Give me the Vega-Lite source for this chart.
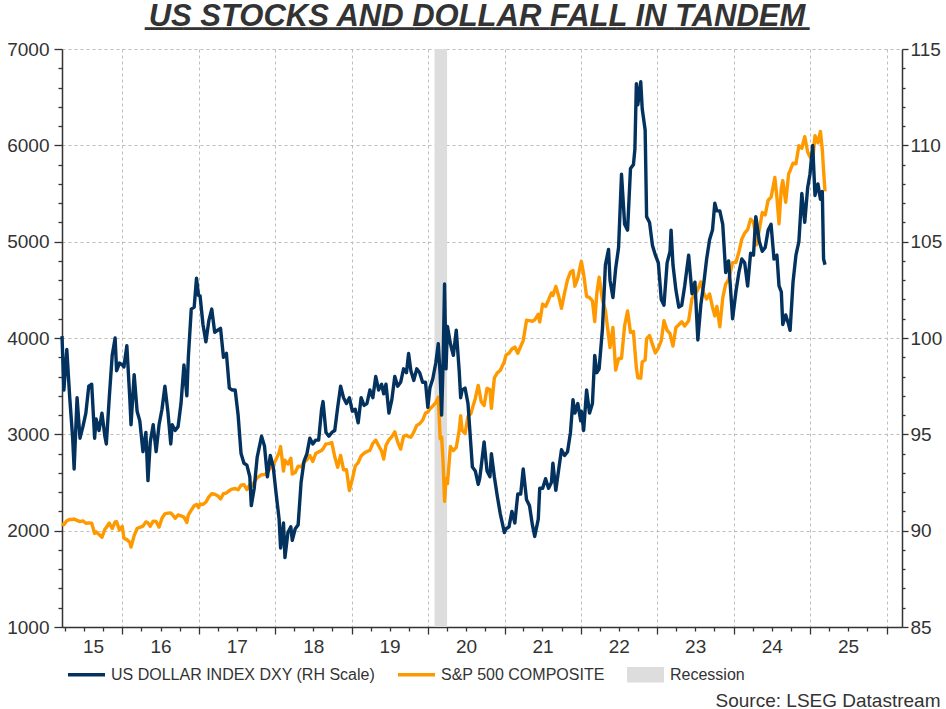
{
  "$schema": "https://vega.github.io/schema/vega-lite/v6.json",
  "width": 840,
  "height": 578,
  "autosize": {"type": "none"},
  "padding": {"left": 62, "top": 49, "right": 44, "bottom": 82},
  "background": "white",
  "title": {
    "text": "US STOCKS AND DOLLAR FALL IN TANDEM",
    "subtitle": "━━━━━━━━━━━━━━━━━━━━━━━━━━━━━━━━━━━━━━━━━━━━━━━━━━━━━━━━━━━━━━━━━━━━━",
    "font": "Liberation Sans Narrow, Arial Narrow, Liberation Sans",
    "fontSize": 31,
    "fontStyle": "italic",
    "fontWeight": "bold",
    "color": "#333333",
    "subtitleFont": "DejaVu Sans Mono",
    "subtitleFontSize": 16,
    "subtitleColor": "#333333",
    "subtitlePadding": -12,
    "anchor": "middle",
    "frame": "group",
    "dx": -5,
    "offset": 2
  },
  "config": {
    "view": {"stroke": null},
    "font": "Liberation Sans",
    "axis": {
      "labelFont": "Liberation Sans",
      "labelColor": "#333333",
      "domainColor": "#333333",
      "domainWidth": 1.5,
      "tickColor": "#333333",
      "tickWidth": 1.3,
      "gridColor": "#bdbdbd",
      "gridDash": [3, 3],
      "gridWidth": 1
    }
  },
  "data": {
    "values": [
      {"d": "2015-03-18", "s": 2075, "u": 100.1},
      {"d": "2015-03-27", "s": 2061, "u": 97.3},
      {"d": "2015-04-10", "s": 2102, "u": 99.4},
      {"d": "2015-04-24", "s": 2117, "u": 96.9},
      {"d": "2015-05-08", "s": 2116, "u": 94.8},
      {"d": "2015-05-15", "s": 2122, "u": 93.2},
      {"d": "2015-05-29", "s": 2107, "u": 96.9},
      {"d": "2015-06-12", "s": 2094, "u": 94.8},
      {"d": "2015-06-26", "s": 2101, "u": 95.4},
      {"d": "2015-07-10", "s": 2077, "u": 96.1},
      {"d": "2015-07-24", "s": 2079, "u": 97.5},
      {"d": "2015-08-07", "s": 2078, "u": 97.6},
      {"d": "2015-08-21", "s": 1971, "u": 94.8},
      {"d": "2015-08-28", "s": 1989, "u": 95.8},
      {"d": "2015-09-11", "s": 1961, "u": 95.2},
      {"d": "2015-09-25", "s": 1931, "u": 96.1},
      {"d": "2015-10-09", "s": 2015, "u": 94.9},
      {"d": "2015-10-16", "s": 2033, "u": 94.5},
      {"d": "2015-10-30", "s": 2079, "u": 96.9},
      {"d": "2015-11-13", "s": 2023, "u": 99.1},
      {"d": "2015-11-27", "s": 2090, "u": 100.0},
      {"d": "2015-12-04", "s": 2092, "u": 98.3},
      {"d": "2015-12-18", "s": 2006, "u": 98.7},
      {"d": "2015-12-31", "s": 2044, "u": 98.6},
      {"d": "2016-01-08", "s": 1922, "u": 98.5},
      {"d": "2016-01-22", "s": 1907, "u": 99.6},
      {"d": "2016-02-05", "s": 1880, "u": 96.9},
      {"d": "2016-02-11", "s": 1829, "u": 95.5},
      {"d": "2016-02-26", "s": 1948, "u": 98.1},
      {"d": "2016-03-11", "s": 2022, "u": 96.2},
      {"d": "2016-03-24", "s": 2035, "u": 95.7},
      {"d": "2016-04-08", "s": 2047, "u": 94.1},
      {"d": "2016-04-22", "s": 2091, "u": 95.1},
      {"d": "2016-05-02", "s": 2081, "u": 92.6},
      {"d": "2016-05-13", "s": 2046, "u": 94.6},
      {"d": "2016-05-27", "s": 2099, "u": 95.5},
      {"d": "2016-06-10", "s": 2096, "u": 94.1},
      {"d": "2016-06-24", "s": 2037, "u": 95.5},
      {"d": "2016-07-08", "s": 2129, "u": 96.3},
      {"d": "2016-07-22", "s": 2175, "u": 97.5},
      {"d": "2016-08-05", "s": 2182, "u": 96.2},
      {"d": "2016-08-19", "s": 2183, "u": 94.5},
      {"d": "2016-08-26", "s": 2169, "u": 95.5},
      {"d": "2016-09-09", "s": 2128, "u": 95.2},
      {"d": "2016-09-23", "s": 2164, "u": 95.4},
      {"d": "2016-10-07", "s": 2153, "u": 96.6},
      {"d": "2016-10-21", "s": 2141, "u": 98.6},
      {"d": "2016-11-04", "s": 2085, "u": 97.0},
      {"d": "2016-11-11", "s": 2164, "u": 99.0},
      {"d": "2016-11-25", "s": 2213, "u": 101.5},
      {"d": "2016-12-09", "s": 2259, "u": 101.6},
      {"d": "2016-12-20", "s": 2271, "u": 103.1},
      {"d": "2016-12-30", "s": 2239, "u": 102.2},
      {"d": "2017-01-06", "s": 2277, "u": 102.2},
      {"d": "2017-01-20", "s": 2271, "u": 100.7},
      {"d": "2017-02-03", "s": 2297, "u": 99.8},
      {"d": "2017-02-17", "s": 2351, "u": 100.9},
      {"d": "2017-03-03", "s": 2383, "u": 101.5},
      {"d": "2017-03-17", "s": 2378, "u": 100.3},
      {"d": "2017-03-31", "s": 2363, "u": 100.4},
      {"d": "2017-04-14", "s": 2329, "u": 100.5},
      {"d": "2017-04-28", "s": 2384, "u": 99.0},
      {"d": "2017-05-12", "s": 2391, "u": 99.2},
      {"d": "2017-05-26", "s": 2416, "u": 97.4},
      {"d": "2017-06-09", "s": 2432, "u": 97.3},
      {"d": "2017-06-23", "s": 2438, "u": 97.3},
      {"d": "2017-07-07", "s": 2425, "u": 96.0},
      {"d": "2017-07-21", "s": 2472, "u": 94.0},
      {"d": "2017-08-04", "s": 2477, "u": 93.5},
      {"d": "2017-08-18", "s": 2426, "u": 93.4},
      {"d": "2017-09-01", "s": 2477, "u": 92.8},
      {"d": "2017-09-08", "s": 2461, "u": 91.3},
      {"d": "2017-09-22", "s": 2502, "u": 92.2},
      {"d": "2017-10-06", "s": 2549, "u": 93.8},
      {"d": "2017-10-27", "s": 2581, "u": 94.9},
      {"d": "2017-11-10", "s": 2582, "u": 94.4},
      {"d": "2017-11-24", "s": 2602, "u": 92.8},
      {"d": "2017-12-08", "s": 2652, "u": 93.9},
      {"d": "2017-12-22", "s": 2683, "u": 93.3},
      {"d": "2018-01-05", "s": 2743, "u": 91.9},
      {"d": "2018-01-19", "s": 2810, "u": 90.6},
      {"d": "2018-01-26", "s": 2873, "u": 89.1},
      {"d": "2018-02-09", "s": 2620, "u": 90.4},
      {"d": "2018-02-16", "s": 2732, "u": 88.6},
      {"d": "2018-03-02", "s": 2691, "u": 89.9},
      {"d": "2018-03-16", "s": 2752, "u": 90.2},
      {"d": "2018-03-23", "s": 2588, "u": 89.5},
      {"d": "2018-04-06", "s": 2604, "u": 90.1},
      {"d": "2018-04-20", "s": 2670, "u": 90.3},
      {"d": "2018-05-04", "s": 2663, "u": 92.5},
      {"d": "2018-05-18", "s": 2712, "u": 93.6},
      {"d": "2018-06-01", "s": 2735, "u": 94.0},
      {"d": "2018-06-15", "s": 2780, "u": 94.8},
      {"d": "2018-06-29", "s": 2718, "u": 94.5},
      {"d": "2018-07-13", "s": 2801, "u": 94.7},
      {"d": "2018-07-27", "s": 2818, "u": 94.7},
      {"d": "2018-08-10", "s": 2833, "u": 96.3},
      {"d": "2018-08-17", "s": 2850, "u": 96.7},
      {"d": "2018-08-31", "s": 2901, "u": 95.1},
      {"d": "2018-09-14", "s": 2904, "u": 94.9},
      {"d": "2018-09-28", "s": 2914, "u": 95.1},
      {"d": "2018-10-12", "s": 2767, "u": 95.2},
      {"d": "2018-10-26", "s": 2658, "u": 96.4},
      {"d": "2018-11-09", "s": 2781, "u": 97.5},
      {"d": "2018-11-23", "s": 2633, "u": 96.9},
      {"d": "2018-12-07", "s": 2633, "u": 96.6},
      {"d": "2018-12-21", "s": 2417, "u": 96.9},
      {"d": "2019-01-04", "s": 2532, "u": 96.2},
      {"d": "2019-01-18", "s": 2671, "u": 96.3},
      {"d": "2019-02-01", "s": 2707, "u": 95.6},
      {"d": "2019-02-15", "s": 2776, "u": 96.9},
      {"d": "2019-03-01", "s": 2804, "u": 96.5},
      {"d": "2019-03-15", "s": 2822, "u": 96.6},
      {"d": "2019-03-29", "s": 2834, "u": 97.3},
      {"d": "2019-04-12", "s": 2907, "u": 96.9},
      {"d": "2019-04-26", "s": 2940, "u": 98.0},
      {"d": "2019-05-10", "s": 2881, "u": 97.3},
      {"d": "2019-05-24", "s": 2826, "u": 97.6},
      {"d": "2019-06-03", "s": 2744, "u": 97.1},
      {"d": "2019-06-14", "s": 2887, "u": 97.6},
      {"d": "2019-06-28", "s": 2942, "u": 96.1},
      {"d": "2019-07-12", "s": 2977, "u": 96.8},
      {"d": "2019-07-26", "s": 3026, "u": 98.0},
      {"d": "2019-08-09", "s": 2919, "u": 97.5},
      {"d": "2019-08-23", "s": 2847, "u": 97.7},
      {"d": "2019-09-06", "s": 2979, "u": 98.4},
      {"d": "2019-09-20", "s": 2992, "u": 98.2},
      {"d": "2019-09-30", "s": 2977, "u": 99.2},
      {"d": "2019-10-11", "s": 2970, "u": 98.3},
      {"d": "2019-10-25", "s": 3023, "u": 97.8},
      {"d": "2019-11-08", "s": 3093, "u": 98.4},
      {"d": "2019-11-22", "s": 3110, "u": 98.2},
      {"d": "2019-12-06", "s": 3146, "u": 97.7},
      {"d": "2019-12-20", "s": 3221, "u": 97.7},
      {"d": "2019-12-31", "s": 3231, "u": 96.4},
      {"d": "2020-01-10", "s": 3265, "u": 97.4},
      {"d": "2020-01-24", "s": 3295, "u": 97.9},
      {"d": "2020-02-07", "s": 3328, "u": 98.7},
      {"d": "2020-02-19", "s": 3386, "u": 99.7},
      {"d": "2020-02-28", "s": 2954, "u": 98.1},
      {"d": "2020-03-06", "s": 2972, "u": 96.0},
      {"d": "2020-03-13", "s": 2711, "u": 98.7},
      {"d": "2020-03-20", "s": 2305, "u": 102.8},
      {"d": "2020-03-27", "s": 2541, "u": 98.4},
      {"d": "2020-04-03", "s": 2489, "u": 100.6},
      {"d": "2020-04-17", "s": 2875, "u": 99.7},
      {"d": "2020-05-01", "s": 2831, "u": 99.1},
      {"d": "2020-05-15", "s": 2864, "u": 100.4},
      {"d": "2020-05-29", "s": 3044, "u": 98.3},
      {"d": "2020-06-05", "s": 3194, "u": 96.9},
      {"d": "2020-06-12", "s": 3041, "u": 97.3},
      {"d": "2020-06-26", "s": 3009, "u": 97.4},
      {"d": "2020-07-10", "s": 3185, "u": 96.6},
      {"d": "2020-07-24", "s": 3216, "u": 94.4},
      {"d": "2020-07-31", "s": 3271, "u": 93.3},
      {"d": "2020-08-14", "s": 3373, "u": 93.1},
      {"d": "2020-08-28", "s": 3508, "u": 92.4},
      {"d": "2020-09-04", "s": 3427, "u": 92.7},
      {"d": "2020-09-11", "s": 3341, "u": 93.3},
      {"d": "2020-09-25", "s": 3298, "u": 94.6},
      {"d": "2020-10-09", "s": 3477, "u": 93.1},
      {"d": "2020-10-23", "s": 3465, "u": 92.8},
      {"d": "2020-10-30", "s": 3270, "u": 94.0},
      {"d": "2020-11-13", "s": 3585, "u": 92.8},
      {"d": "2020-11-27", "s": 3638, "u": 91.8},
      {"d": "2020-12-11", "s": 3663, "u": 90.9},
      {"d": "2020-12-31", "s": 3756, "u": 89.9},
      {"d": "2021-01-08", "s": 3824, "u": 90.1},
      {"d": "2021-01-22", "s": 3841, "u": 90.2},
      {"d": "2021-02-05", "s": 3886, "u": 91.0},
      {"d": "2021-02-19", "s": 3906, "u": 90.4},
      {"d": "2021-03-05", "s": 3842, "u": 91.9},
      {"d": "2021-03-19", "s": 3913, "u": 91.9},
      {"d": "2021-03-31", "s": 3973, "u": 93.2},
      {"d": "2021-04-16", "s": 4185, "u": 91.6},
      {"d": "2021-04-30", "s": 4181, "u": 91.3},
      {"d": "2021-05-14", "s": 4174, "u": 90.3},
      {"d": "2021-05-25", "s": 4188, "u": 89.7},
      {"d": "2021-06-11", "s": 4247, "u": 90.6},
      {"d": "2021-06-18", "s": 4166, "u": 92.2},
      {"d": "2021-07-02", "s": 4352, "u": 92.2},
      {"d": "2021-07-16", "s": 4327, "u": 92.7},
      {"d": "2021-07-30", "s": 4395, "u": 92.2},
      {"d": "2021-08-13", "s": 4468, "u": 92.5},
      {"d": "2021-08-20", "s": 4442, "u": 93.5},
      {"d": "2021-09-03", "s": 4535, "u": 92.1},
      {"d": "2021-09-17", "s": 4433, "u": 93.2},
      {"d": "2021-09-30", "s": 4308, "u": 94.2},
      {"d": "2021-10-15", "s": 4471, "u": 93.9},
      {"d": "2021-10-29", "s": 4605, "u": 94.1},
      {"d": "2021-11-12", "s": 4683, "u": 95.1},
      {"d": "2021-11-24", "s": 4701, "u": 96.8},
      {"d": "2021-12-03", "s": 4538, "u": 96.1},
      {"d": "2021-12-17", "s": 4621, "u": 96.6},
      {"d": "2021-12-31", "s": 4766, "u": 95.7},
      {"d": "2022-01-03", "s": 4796, "u": 96.2},
      {"d": "2022-01-14", "s": 4663, "u": 95.2},
      {"d": "2022-01-28", "s": 4432, "u": 97.3},
      {"d": "2022-02-11", "s": 4419, "u": 96.1},
      {"d": "2022-02-25", "s": 4385, "u": 96.6},
      {"d": "2022-03-08", "s": 4171, "u": 99.1},
      {"d": "2022-03-18", "s": 4463, "u": 98.2},
      {"d": "2022-03-29", "s": 4632, "u": 98.4},
      {"d": "2022-04-14", "s": 4392, "u": 100.5},
      {"d": "2022-04-28", "s": 4288, "u": 103.8},
      {"d": "2022-05-13", "s": 4023, "u": 104.6},
      {"d": "2022-05-20", "s": 3901, "u": 103.0},
      {"d": "2022-06-03", "s": 4109, "u": 102.1},
      {"d": "2022-06-16", "s": 3667, "u": 103.6},
      {"d": "2022-06-30", "s": 3785, "u": 104.7},
      {"d": "2022-07-14", "s": 3790, "u": 108.5},
      {"d": "2022-07-29", "s": 4130, "u": 105.9},
      {"d": "2022-08-12", "s": 4280, "u": 105.6},
      {"d": "2022-08-26", "s": 4058, "u": 108.8},
      {"d": "2022-09-09", "s": 4067, "u": 109.0},
      {"d": "2022-09-16", "s": 3873, "u": 109.8},
      {"d": "2022-09-23", "s": 3693, "u": 113.2},
      {"d": "2022-09-30", "s": 3586, "u": 112.1},
      {"d": "2022-10-14", "s": 3583, "u": 113.3},
      {"d": "2022-10-21", "s": 3752, "u": 111.9},
      {"d": "2022-11-04", "s": 3770, "u": 110.8},
      {"d": "2022-11-11", "s": 3992, "u": 106.3},
      {"d": "2022-11-25", "s": 4026, "u": 106.0},
      {"d": "2022-12-09", "s": 3934, "u": 104.8},
      {"d": "2022-12-23", "s": 3845, "u": 104.3},
      {"d": "2023-01-06", "s": 3895, "u": 103.9},
      {"d": "2023-01-20", "s": 3972, "u": 102.0},
      {"d": "2023-02-02", "s": 4180, "u": 101.7},
      {"d": "2023-02-17", "s": 4079, "u": 103.9},
      {"d": "2023-03-03", "s": 4045, "u": 104.5},
      {"d": "2023-03-08", "s": 3992, "u": 105.6},
      {"d": "2023-03-17", "s": 3917, "u": 103.8},
      {"d": "2023-03-31", "s": 4109, "u": 102.5},
      {"d": "2023-04-14", "s": 4138, "u": 101.6},
      {"d": "2023-04-28", "s": 4169, "u": 101.7},
      {"d": "2023-05-12", "s": 4124, "u": 102.7},
      {"d": "2023-05-31", "s": 4180, "u": 104.3},
      {"d": "2023-06-16", "s": 4410, "u": 102.3},
      {"d": "2023-06-30", "s": 4450, "u": 102.9},
      {"d": "2023-07-14", "s": 4505, "u": 99.9},
      {"d": "2023-07-28", "s": 4582, "u": 101.7},
      {"d": "2023-08-11", "s": 4464, "u": 102.8},
      {"d": "2023-08-25", "s": 4406, "u": 104.1},
      {"d": "2023-09-08", "s": 4457, "u": 105.1},
      {"d": "2023-09-22", "s": 4320, "u": 105.6},
      {"d": "2023-10-03", "s": 4229, "u": 107.0},
      {"d": "2023-10-13", "s": 4328, "u": 106.6},
      {"d": "2023-10-27", "s": 4117, "u": 106.6},
      {"d": "2023-11-10", "s": 4415, "u": 105.9},
      {"d": "2023-11-24", "s": 4559, "u": 103.4},
      {"d": "2023-12-08", "s": 4604, "u": 104.0},
      {"d": "2023-12-27", "s": 4782, "u": 101.0},
      {"d": "2024-01-12", "s": 4784, "u": 102.4},
      {"d": "2024-01-26", "s": 4891, "u": 103.4},
      {"d": "2024-02-09", "s": 5026, "u": 104.1},
      {"d": "2024-02-23", "s": 5089, "u": 103.9},
      {"d": "2024-03-08", "s": 5124, "u": 102.7},
      {"d": "2024-03-22", "s": 5234, "u": 104.4},
      {"d": "2024-04-05", "s": 5204, "u": 104.3},
      {"d": "2024-04-16", "s": 5051, "u": 106.3},
      {"d": "2024-04-19", "s": 4967, "u": 106.1},
      {"d": "2024-05-03", "s": 5128, "u": 105.0},
      {"d": "2024-05-17", "s": 5303, "u": 104.5},
      {"d": "2024-05-31", "s": 5278, "u": 104.7},
      {"d": "2024-06-14", "s": 5431, "u": 105.6},
      {"d": "2024-06-28", "s": 5460, "u": 105.9},
      {"d": "2024-07-12", "s": 5615, "u": 104.1},
      {"d": "2024-07-16", "s": 5667, "u": 104.2},
      {"d": "2024-07-26", "s": 5459, "u": 104.3},
      {"d": "2024-08-05", "s": 5186, "u": 102.7},
      {"d": "2024-08-16", "s": 5554, "u": 102.4},
      {"d": "2024-08-23", "s": 5634, "u": 100.7},
      {"d": "2024-09-06", "s": 5408, "u": 101.2},
      {"d": "2024-09-20", "s": 5703, "u": 100.7},
      {"d": "2024-09-27", "s": 5738, "u": 100.4},
      {"d": "2024-10-11", "s": 5815, "u": 102.9},
      {"d": "2024-10-25", "s": 5808, "u": 104.3},
      {"d": "2024-11-08", "s": 5996, "u": 105.0},
      {"d": "2024-11-22", "s": 5969, "u": 107.5},
      {"d": "2024-12-06", "s": 6090, "u": 106.0},
      {"d": "2024-12-20", "s": 5931, "u": 107.8},
      {"d": "2024-12-31", "s": 5882, "u": 108.5},
      {"d": "2025-01-13", "s": 5836, "u": 110.0},
      {"d": "2025-01-24", "s": 6101, "u": 107.4},
      {"d": "2025-02-07", "s": 6026, "u": 108.0},
      {"d": "2025-02-19", "s": 6144, "u": 107.2},
      {"d": "2025-02-28", "s": 5955, "u": 107.6},
      {"d": "2025-03-06", "s": 5739, "u": 104.1},
      {"d": "2025-03-13", "s": 5521, "u": 103.8}
    ]
  },
  "encoding": {
    "x": {
      "field": "d",
      "type": "temporal",
      "scale": {
        "type": "utc",
        "domain": [
          {"year": 2015, "month": 3, "date": 18, "utc": true},
          {"year": 2026, "month": 3, "date": 16, "utc": true}
        ]
      },
      "axis": {
        "tickCount": {"interval": "month", "step": 3},
        "labelExpr": "utcmonth(datum.value) === 6 ? utcFormat(datum.value, '%y') : ''",
        "labelOffset": {"condition": {"test": "utcyear(datum.value) === 2015", "value": 9}, "value": 0},
        "labelFlush": false,
        "labelOverlap": false,
        "labelFontSize": 19,
        "labelPadding": 6,
        "grid": true,
        "gridOpacity": {"condition": {"test": "utcmonth(datum.value) === 0", "value": 1}, "value": 0},
        "tickSize": {"condition": {"test": "utcmonth(datum.value) === 0", "value": 7}, "value": 4},
        "title": "Source: LSEG Datastream",
        "titleFont": "Liberation Sans",
        "titleFontSize": 19,
        "titleFontWeight": "normal",
        "titleColor": "#333333",
        "titleAlign": "right",
        "titleBaseline": "alphabetic",
        "titleX": 878,
        "titleY": 79
      }
    }
  },
  "layer": [
    {
      "data": {"values": [{"d": "2020-02-01", "d2": "2020-04-01"}]},
      "mark": {"type": "rect"},
      "encoding": {
        "x2": {"field": "d2"},
        "color": {
          "datum": "Recession",
          "type": "nominal",
          "title": null,
          "scale": {
            "domain": ["US DOLLAR INDEX DXY (RH Scale)", "S&P 500 COMPOSITE", "Recession"],
            "range": ["#04325f", "#ff9900", "#dddddd"]
          },
          "legend": {
            "orient": "none",
            "legendX": 6,
            "legendY": 607,
            "direction": "horizontal",
            "title": null,
            "symbolSize": 1369,
            "labelFont": "Liberation Sans",
            "labelFontSize": 16,
            "labelColor": "#333333",
            "labelOffset": 6,
            "columnPadding": 22,
            "labelLimit": 400,
            "encode": {
              "symbols": {
                "update": {
                  "shape": {"signal": "datum.value === 'Recession' ? 'M-1,-0.42H1V0.42H-1Z' : 'M-1,-0.09H1V0.09H-1Z'"},
                  "fill": {"scale": "color", "field": "value"},
                  "stroke": {"value": "transparent"},
                  "strokeWidth": {"value": 0},
                  "opacity": {"value": 1}
                }
              }
            }
          }
        }
      }
    },
    {
      "mark": {"type": "line", "strokeWidth": 3.4, "strokeJoin": "round"},
      "encoding": {
        "y": {
          "field": "s",
          "type": "quantitative",
          "scale": {"domain": [1000, 7000], "nice": false, "zero": false},
          "axis": {
            "title": null,
            "values": [1000, 1200, 1400, 1600, 1800, 2000, 2200, 2400, 2600, 2800, 3000, 3200, 3400, 3600, 3800, 4000, 4200, 4400, 4600, 4800, 5000, 5200, 5400, 5600, 5800, 6000, 6200, 6400, 6600, 6800, 7000],
            "format": "d",
            "labelExpr": "datum.value % 1000 === 0 ? datum.label : ''",
            "labelFontSize": 19,
            "labelPadding": 5,
            "grid": true,
            "gridOpacity": {"condition": {"test": "datum.value % 1000 === 0", "value": 1}, "value": 0},
            "tickSize": {"condition": {"test": "datum.value % 1000 === 0", "value": 8}, "value": 4}
          }
        },
        "color": {"datum": "S&P 500 COMPOSITE", "type": "nominal", "title": null}
      }
    },
    {
      "mark": {"type": "line", "strokeWidth": 3.4, "strokeJoin": "round"},
      "encoding": {
        "y": {
          "field": "u",
          "type": "quantitative",
          "scale": {"domain": [85, 115], "nice": false, "zero": false},
          "axis": {
            "orient": "right",
            "title": null,
            "values": [85, 86, 87, 88, 89, 90, 91, 92, 93, 94, 95, 96, 97, 98, 99, 100, 101, 102, 103, 104, 105, 106, 107, 108, 109, 110, 111, 112, 113, 114, 115],
            "labelExpr": "datum.value % 5 === 0 ? datum.label : ''",
            "labelFontSize": 19,
            "labelPadding": 2,
            "grid": false,
            "tickSize": {"condition": {"test": "datum.value % 5 === 0", "value": 6}, "value": 3}
          }
        },
        "color": {"datum": "US DOLLAR INDEX DXY (RH Scale)", "type": "nominal", "title": null}
      }
    }
  ],
  "resolve": {"scale": {"y": "independent"}}
}
